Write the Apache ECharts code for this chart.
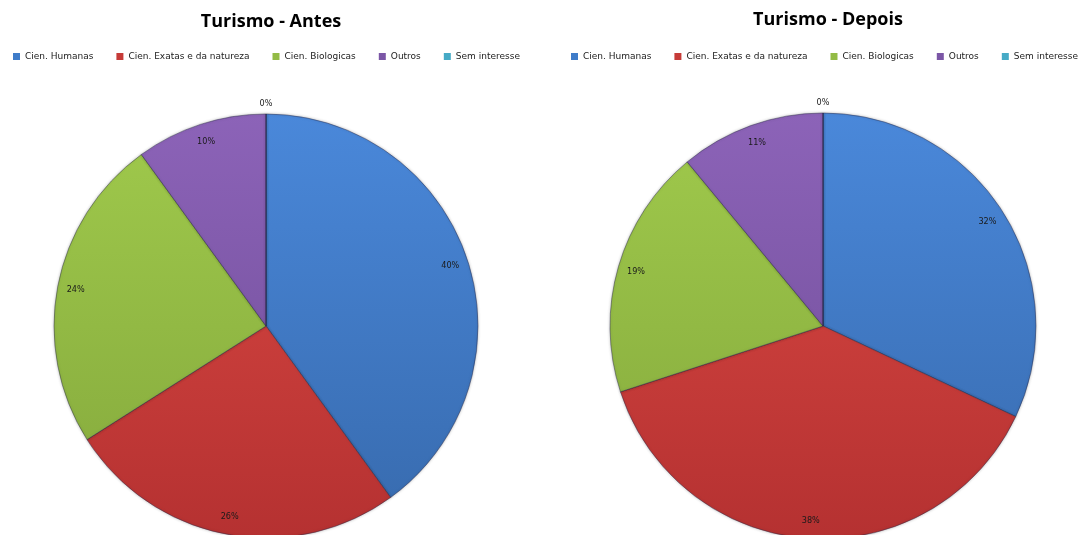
<!DOCTYPE html>
<html>
<head>
<meta charset="utf-8">
<script src="https://cdn.jsdelivr.net/npm/echarts@6/dist/echarts.min.js"></script>
<style>
  html, body { margin: 0; padding: 0; background: #fff; }
  #chart { width: 1083px; height: 535px; }
</style>
</head>
<body>
<div id="chart"></div>
<script>
// Areas of interest (legend / slice names)
const categories = ['Cien. Humanas', 'Cien. Exatas e da natureza', 'Cien. Biologicas', 'Outros', 'Sem interesse'];
// Share of students per area, in percent
const antesValues = [40, 26, 24, 10, 0];
const depoisValues = [32, 38, 19, 11, 0];
const titles = ['Turismo - Antes', 'Turismo - Depois'];

// Shaded fills: [top, bottom] per category
const shades = [
  ['#4a88da', '#376aad'],
  ['#dc4a44', '#b53131'],
  ['#a0ca4c', '#84a83c'],
  ['#8c63b8', '#6e4c96'],
  ['#4bb3cf', '#3a93ad']
];
const flatColors = ['#3f7cc9', '#c63b38', '#93bb45', '#7b56a6', '#46aac6'];

const PIE_TOP = 113, PIE_BOTTOM = 539;

function fill(i) {
  return {
    type: 'linear', x: 0, y: PIE_TOP, x2: 0, y2: PIE_BOTTOM, global: true,
    colorStops: [{ offset: 0, color: shades[i][0] }, { offset: 1, color: shades[i][1] }]
  };
}

function pieData(values) {
  return categories.map((name, i) => ({
    name, value: values[i],
    itemStyle: { color: fill(i) }
  }));
}

function labelData(values) {
  return categories.map((name, i) => {
    const item = { name, value: values[i] };
    if (values[i] === 0) item.label = { offset: [0, -29] };
    return item;
  });
}

function pies(values, cx, radius) {
  return [
    {
      type: 'pie',
      center: [cx, 326],
      radius: radius,
      startAngle: 90,
      clockwise: true,
      silent: true,
      label: { show: false },
      labelLine: { show: false },
      itemStyle: { borderColor: 'rgba(40,40,70,0.45)', borderWidth: 1, shadowBlur: 3, shadowColor: 'rgba(0,0,0,0.25)' },
      emphasis: { disabled: true },
      data: pieData(values)
    },
    {
      // transparent ring that places the percentage labels near the rim
      type: 'pie',
      center: [cx, 326],
      radius: [radius * 0.8, radius],
      startAngle: 90,
      clockwise: true,
      silent: true,
      itemStyle: { color: 'rgba(0,0,0,0)', borderWidth: 0 },
      label: {
        show: true, position: 'inside',
        formatter: '{c}%',
        fontFamily: 'DejaVu Sans Condensed', fontSize: 9, color: '#1a1a1a'
      },
      labelLine: { show: false },
      emphasis: { disabled: true },
      data: labelData(values)
    }
  ];
}

function legend(x) {
  return {
    top: 47,
    left: x,
    itemWidth: 7,
    itemHeight: 7,
    itemGap: 23,
    icon: 'rect',
    selectedMode: false,
    itemStyle: { borderWidth: 0 },
    textStyle: { fontFamily: 'DejaVu Sans', fontSize: 9, color: '#222' },
    data: categories.map((name, i) => ({ name, itemStyle: { color: flatColors[i], borderWidth: 0 } }))
  };
}

const titleStyle = { fontFamily: 'Open Sans', fontWeight: 'bold', fontSize: 18, color: '#000' };

const chart = echarts.init(document.getElementById('chart'), null, { renderer: 'canvas' });
chart.setOption({
  animation: false,
  backgroundColor: '#fff',
  title: [
    { text: titles[0], left: 266, top: 8, textAlign: 'center', textStyle: titleStyle },
    { text: titles[1], left: 823, top: 6, textAlign: 'center', textStyle: titleStyle }
  ],
  legend: [legend(8), legend(566)],
  series: [
    ...pies(antesValues, 266, 212),
    ...pies(depoisValues, 823, 213)
  ]
});
</script>
</body>
</html>
